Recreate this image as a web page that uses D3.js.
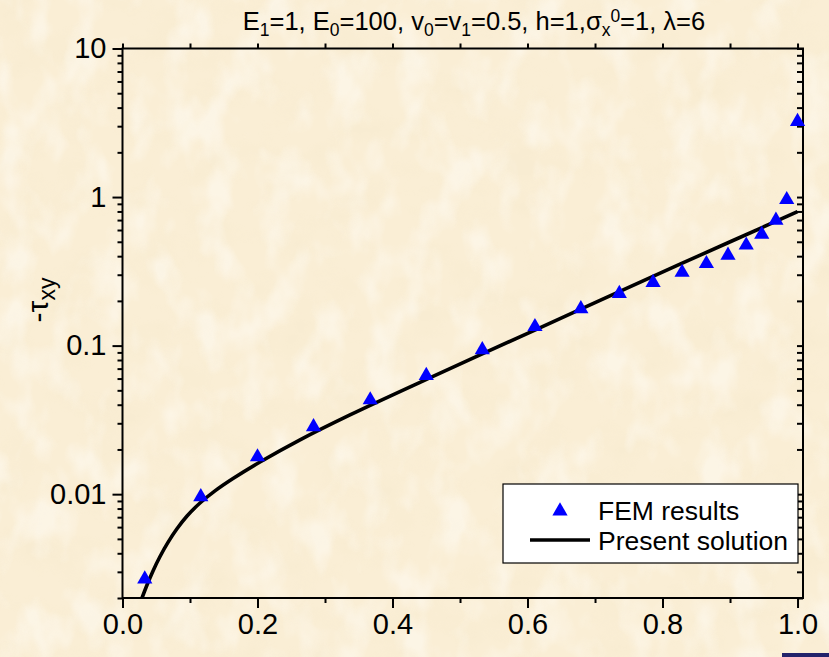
<!DOCTYPE html>
<html>
<head>
<meta charset="utf-8">
<script src="https://cdn.jsdelivr.net/npm/d3@7"></script>
<style>
  html, body { margin: 0; padding: 0; background: #faeed6; }
  svg { display: block; font-family: "Liberation Sans", Arial, sans-serif; }
</style>
</head>
<body>
<svg id="chart" width="829" height="657"></svg>
<script>
// FEM results (normalised position, -tau_xy)
const femX = [0.033, 0.116, 0.200, 0.283, 0.367, 0.450, 0.533, 0.611, 0.679, 0.736,
              0.786, 0.829, 0.865, 0.897, 0.924, 0.947, 0.968, 0.984, 1.000];
const femY = [0.00268, 0.0096, 0.0178, 0.0284, 0.0431, 0.0629, 0.0937, 0.134, 0.177, 0.224,
              0.266, 0.311, 0.356, 0.405, 0.474, 0.560, 0.697, 0.960, 3.22];

// Present (analytical) solution, sampled along the curve
const solX = [0.0289, 0.0363, 0.0452, 0.0556, 0.0674, 0.0807, 0.0956, 0.1148, 0.1370, 0.1637,
              0.2037, 0.2630, 0.3370, 0.4511, 0.6141, 0.7074, 0.8259, 1.0];
const solY = [0.00200, 0.002445, 0.003044, 0.003805, 0.004733, 0.005845, 0.007126, 0.008717, 0.01052, 0.01274,
              0.01646, 0.02322, 0.03417, 0.05951, 0.1293, 0.2015, 0.3532, 0.7968];

const xMajor = [0.0, 0.2, 0.4, 0.6, 0.8, 1.0];
const xMinor = [0.1, 0.3, 0.5, 0.7, 0.9];
const yMajor = [0.01, 0.1, 1, 10];
const yMajorLabels = ["0.01", "0.1", "1", "10"];
const legendLabels = ["FEM results", "Present solution"];

const svg = d3.select("#chart");
const W = 829, H = 657;

// parchment background: base tone plus darker and lighter mottling
const defs = svg.append("defs");
const dark = defs.append("filter").attr("id", "mottleDark")
  .attr("x", 0).attr("y", 0).attr("width", "100%").attr("height", "100%");
dark.append("feTurbulence").attr("type", "fractalNoise")
  .attr("baseFrequency", "0.022 0.028").attr("numOctaves", 4).attr("seed", 11);
dark.append("feColorMatrix").attr("type", "matrix")
  .attr("values", "0 0 0 0 0.90  0 0 0 0 0.80  0 0 0 0 0.58  3.0 0 0 0 -1.35");
const light = defs.append("filter").attr("id", "mottleLight")
  .attr("x", 0).attr("y", 0).attr("width", "100%").attr("height", "100%");
light.append("feTurbulence").attr("type", "fractalNoise")
  .attr("baseFrequency", "0.03 0.02").attr("numOctaves", 3).attr("seed", 29);
light.append("feColorMatrix").attr("type", "matrix")
  .attr("values", "0 0 0 0 1  0 0 0 0 0.99  0 0 0 0 0.96  0 -3.0 0 0 1.65");
svg.append("rect").attr("width", W).attr("height", H).attr("fill", "#faeed5");
svg.append("rect").attr("width", W).attr("height", H).attr("filter", "url(#mottleDark)").attr("opacity", 0.2);
svg.append("rect").attr("width", W).attr("height", H).attr("filter", "url(#mottleLight)").attr("opacity", 0.45);

const pLeft = 122.5, pRight = 803, pTop = 48.5, pBottom = 598;
const x = d3.scaleLinear().domain([0, 1.0081]).range([pLeft, pRight]);
const y = d3.scaleLog().domain([0.002, 10]).range([pBottom, pTop]);

// minor log ticks 2..9 per decade within the domain
const yMinor = [];
[0.001, 0.01, 0.1, 1].forEach(d => { for (let k = 2; k <= 9; k++) { const v = d * k; if (v >= 0.002 && v <= 10) yMinor.push(v); } });

defs.append("clipPath").attr("id", "plotclip").append("rect")
  .attr("x", pLeft).attr("y", pTop).attr("width", pRight - pLeft).attr("height", pBottom - pTop);

function styleAxis(g) {
  g.selectAll("path.domain").remove();
  g.selectAll("line").attr("stroke", "#000").attr("stroke-width", 2);
  g.selectAll("text").attr("fill", "#000").attr("font-size", 29)
    .attr("font-family", "Liberation Sans, Arial, sans-serif");
}

// bottom axis
svg.append("g").attr("transform", `translate(0,${pBottom})`)
  .call(d3.axisBottom(x).tickValues(xMajor).tickSize(10).tickPadding(5).tickFormat(d3.format(".1f")))
  .call(styleAxis);
svg.append("g").attr("transform", `translate(0,${pBottom})`)
  .call(d3.axisBottom(x).tickValues(xMinor).tickSize(5).tickFormat(""))
  .call(styleAxis);
// top axis
svg.append("g").attr("transform", `translate(0,${pTop})`)
  .call(d3.axisTop(x).tickValues(xMajor.concat(xMinor)).tickSize(5).tickFormat(""))
  .call(styleAxis);
// left axis
svg.append("g").attr("transform", `translate(${pLeft},0)`)
  .call(d3.axisLeft(y).tickValues(yMajor).tickSize(10).tickPadding(6).tickFormat((d, i) => yMajorLabels[i]))
  .call(styleAxis);
svg.append("g").attr("transform", `translate(${pLeft},0)`)
  .call(d3.axisLeft(y).tickValues(yMinor).tickSize(5).tickFormat(""))
  .call(styleAxis);
// right axis (ticks inward)
svg.append("g").attr("transform", `translate(${pRight},0)`)
  .call(d3.axisLeft(y).tickValues(yMajor.concat(yMinor)).tickSize(6).tickFormat(""))
  .call(styleAxis);

// frame
svg.append("rect").attr("x", pLeft).attr("y", pTop).attr("width", pRight - pLeft).attr("height", pBottom - pTop)
  .attr("fill", "none").attr("stroke", "#000").attr("stroke-width", 2);

// present solution curve
const line = d3.line().x(d => x(d[0])).y(d => y(d[1])).curve(d3.curveCatmullRom.alpha(0.5));
svg.append("path").datum(d3.zip(solX, solY)).attr("clip-path", "url(#plotclip)")
  .attr("d", line).attr("fill", "none").attr("stroke", "#000").attr("stroke-width", 3.6)
  .attr("stroke-linejoin", "round");

// FEM triangles
const tri = d3.symbol().type(d3.symbolTriangle).size(100);
svg.append("g").selectAll("path").data(d3.zip(femX, femY)).join("path")
  .attr("transform", d => `translate(${x(d[0])},${y(d[1])})`)
  .attr("d", tri).attr("fill", "#0000ff");

// legend
const lg = svg.append("g");
lg.append("rect").attr("x", 503).attr("y", 484).attr("width", 295).attr("height", 79)
  .attr("fill", "#ffffff").attr("stroke", "#000").attr("stroke-width", 1.2);
lg.append("path").attr("transform", "translate(560,511)").attr("d", tri).attr("fill", "#0000ff");
lg.append("line").attr("x1", 530).attr("x2", 590).attr("y1", 540).attr("y2", 540)
  .attr("stroke", "#000").attr("stroke-width", 3.6);
lg.selectAll("text").data(legendLabels).join("text")
  .attr("x", 598).attr("y", (d, i) => 520 + i * 30)
  .attr("font-size", 26.5).attr("fill", "#000").text(d => d);

// title
const title = svg.append("text").attr("x", 474).attr("y", 30).attr("text-anchor", "middle")
  .attr("font-size", 25.5).attr("fill", "#000");
function seg(t, txt, shift, size) {
  const s = t.append("tspan").text(txt);
  if (shift) s.attr("baseline-shift", shift);
  if (size) s.attr("font-size", size);
  return s;
}
seg(title, "E"); seg(title, "1", "-35%", 17.5); seg(title, "=1, E");
seg(title, "0", "-35%", 17.5); seg(title, "=100, v"); seg(title, "0", "-35%", 17.5);
seg(title, "=v"); seg(title, "1", "-35%", 17.5); seg(title, "=0.5, h=1,\u03c3");
seg(title, "x", "-35%", 17.5); seg(title, "0", "45%", 17.5); seg(title, "=1, \u03bb=6");

// y-axis label
const yl = svg.append("text").attr("transform", "translate(48,300) rotate(-90)")
  .attr("text-anchor", "middle").attr("font-size", 30).attr("fill", "#000");
seg(yl, "-\u03c4"); seg(yl, "xy", "-30%", 23);

// small dark strip at the lower right edge
svg.append("rect").attr("x", 782).attr("y", 653).attr("width", 47).attr("height", 4).attr("fill", "#23236b");
</script>
</body>
</html>
